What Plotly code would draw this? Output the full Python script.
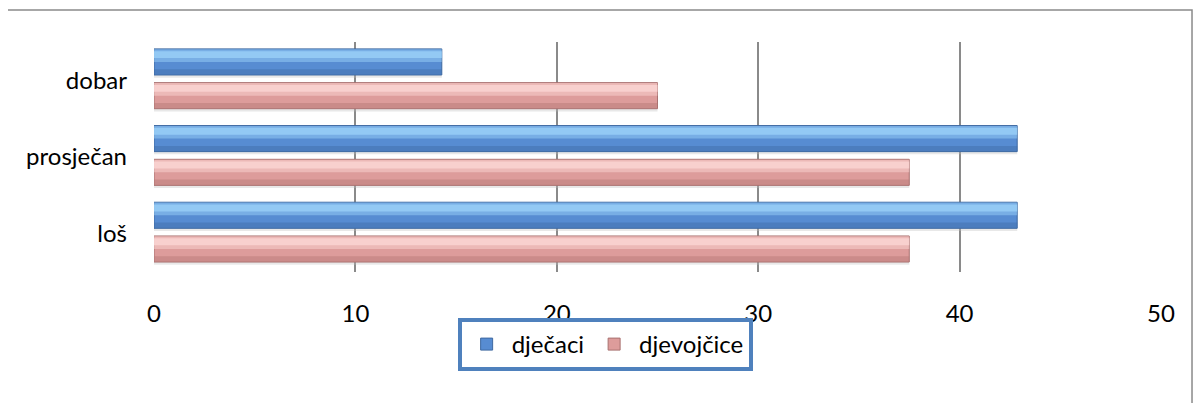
import plotly.graph_objects as go

categories = ["loš", "prosječan", "dobar"]
djecaci = [42.86, 42.86, 14.29]
djevojcice = [37.5, 37.5, 25.0]
x_ticks = [0, 10, 20, 30, 40, 50]

FONT = "Lato"
FS = 24
fig = go.Figure()

def shadow(values, name, offset):
    fig.add_trace(go.Bar(y=categories, x=values, orientation="h", name=name,
                         marker=dict(color="#BFBFBF", line=dict(width=0)), opacity=0.35,
                         width=0.34, offset=offset - 0.035, showlegend=False, hoverinfo="skip"))

def layered(values, name, offset, base, light, dark, edge):
    fig.add_trace(go.Bar(y=categories, x=values, orientation="h", name=name,
                         marker=dict(color=base, line=dict(color=edge, width=1)),
                         width=0.34, offset=offset, showlegend=True, hoverinfo="x+name"))
    fig.add_trace(go.Bar(y=categories, x=values, orientation="h", name=name,
                         marker=dict(color=dark, line=dict(width=0)), opacity=0.45,
                         width=0.07, offset=offset + 0.005, showlegend=False, hoverinfo="skip"))
    fig.add_trace(go.Bar(y=categories, x=values, orientation="h", name=name,
                         marker=dict(color=light, line=dict(width=0)), opacity=0.5,
                         width=0.165, offset=offset + 0.17, showlegend=False, hoverinfo="skip"))
    fig.add_trace(go.Bar(y=categories, x=values, orientation="h", name=name,
                         marker=dict(color=light, line=dict(width=0)), opacity=0.8,
                         width=0.09, offset=offset + 0.22, showlegend=False, hoverinfo="skip"))

shadow(djecaci, "dječaci", 0.07)
shadow(djevojcice, "djevojčice", -0.37)
layered(djecaci, "dječaci", 0.07, "#578CD2", "#9AD0F8", "#3F6CA8", "#3E68A0")
layered(djevojcice, "djevojčice", -0.37, "#DD9C9B", "#FCD6D4", "#B57775", "#A87170")

fig.update_layout(
    width=1193, height=395,
    margin=dict(l=146, r=40, t=34, b=131),
    barmode="overlay",
    paper_bgcolor="white", plot_bgcolor="white",
    font=dict(family=FONT, size=FS, color="black"),
    xaxis=dict(range=[0, 50], tickvals=x_ticks, showgrid=True, gridcolor="#8A8A8A",
               gridwidth=1.5, zeroline=False, showline=False, ticks="",
               ticklabelstandoff=25, fixedrange=True),
    yaxis=dict(categoryorder="array", categoryarray=categories, range=[-0.5, 2.5],
               showgrid=False, zeroline=False, showline=False, ticks="",
               ticklabelstandoff=26, fixedrange=True),
    legend=dict(orientation="h", x=0.448, xanchor="center", y=-0.2, yanchor="top",
                bordercolor="#4F81BD", borderwidth=4, font=dict(size=FS, family=FONT),
                itemwidth=40, traceorder="normal"),
    shapes=[dict(type="rect", xref="paper", yref="paper", x0=-0.147, x1=1.0308,
                 y0=-0.7, y1=1.139, line=dict(color="#8A8A8A", width=1.5), layer="below")],
)

fig.write_html("out.html")
